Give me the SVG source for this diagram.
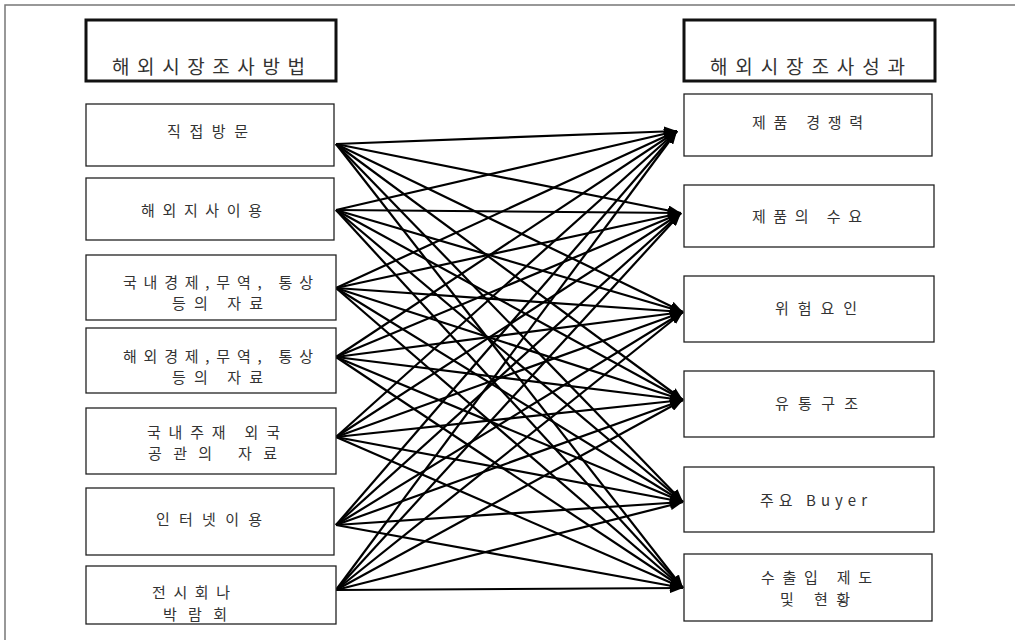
<svg xmlns="http://www.w3.org/2000/svg" width="1015" height="640" viewBox="0 0 1015 640">
  <style>
    .frame { stroke: #777; stroke-width: 1.5; fill: none; }
    .box { fill: #fff; stroke: #222; stroke-width: 1.3; }
    .head { fill: #fff; stroke: #111; stroke-width: 3; }
    .lbl { font-family: "Noto Sans CJK KR", "Noto Sans", sans-serif; font-size: 15px; fill: #333; }
    .hlbl { font-family: "Noto Sans CJK KR", "Noto Sans", sans-serif; font-size: 19px; fill: #333; }
    .edge { stroke: #000; stroke-width: 2.2; fill: none; marker-end: url(#arrow); }
  </style>
  <defs>
    <marker id="arrow" viewBox="0 0 13 10" refX="13" refY="5" markerWidth="13" markerHeight="10" markerUnits="userSpaceOnUse" orient="auto">
      <path d="M0,0 L13,5 L0,10 Z" fill="#000"/>
    </marker>
  </defs>

  <rect width="1015" height="640" fill="#fff"/>
  <!-- page frame (top and left edges) -->
  <path class="frame" d="M5,640 L5,5 L1015,5"/>

  <!-- connectors: every method to every result -->
  <g id="connectors">
    <!-- from 직접방문 -->
    <line class="edge" x1="336" y1="144" x2="677" y2="131"/>
    <line class="edge" x1="336" y1="144" x2="681" y2="213"/>
    <line class="edge" x1="336" y1="144" x2="683" y2="312"/>
    <line class="edge" x1="336" y1="144" x2="683" y2="400"/>
    <line class="edge" x1="336" y1="144" x2="683" y2="502"/>
    <line class="edge" x1="336" y1="144" x2="683" y2="588"/>
    <!-- from 해외지사이용 -->
    <line class="edge" x1="336" y1="210" x2="677" y2="131"/>
    <line class="edge" x1="336" y1="210" x2="681" y2="213"/>
    <line class="edge" x1="336" y1="210" x2="683" y2="312"/>
    <line class="edge" x1="336" y1="210" x2="683" y2="400"/>
    <line class="edge" x1="336" y1="210" x2="683" y2="502"/>
    <line class="edge" x1="336" y1="210" x2="683" y2="588"/>
    <!-- from 국내경제 -->
    <line class="edge" x1="336" y1="288" x2="677" y2="131"/>
    <line class="edge" x1="336" y1="288" x2="681" y2="213"/>
    <line class="edge" x1="336" y1="288" x2="683" y2="312"/>
    <line class="edge" x1="336" y1="288" x2="683" y2="400"/>
    <line class="edge" x1="336" y1="288" x2="683" y2="502"/>
    <line class="edge" x1="336" y1="288" x2="683" y2="588"/>
    <!-- from 해외경제 -->
    <line class="edge" x1="336" y1="357" x2="677" y2="131"/>
    <line class="edge" x1="336" y1="357" x2="681" y2="213"/>
    <line class="edge" x1="336" y1="357" x2="683" y2="312"/>
    <line class="edge" x1="336" y1="357" x2="683" y2="400"/>
    <line class="edge" x1="336" y1="357" x2="683" y2="502"/>
    <line class="edge" x1="336" y1="357" x2="683" y2="588"/>
    <!-- from 국내주재 외국 공관 -->
    <line class="edge" x1="336" y1="437" x2="677" y2="131"/>
    <line class="edge" x1="336" y1="437" x2="681" y2="213"/>
    <line class="edge" x1="336" y1="437" x2="683" y2="312"/>
    <line class="edge" x1="336" y1="437" x2="683" y2="400"/>
    <line class="edge" x1="336" y1="437" x2="683" y2="502"/>
    <line class="edge" x1="336" y1="437" x2="683" y2="588"/>
    <!-- from 인터넷이용 -->
    <line class="edge" x1="336" y1="525" x2="677" y2="131"/>
    <line class="edge" x1="336" y1="525" x2="681" y2="213"/>
    <line class="edge" x1="336" y1="525" x2="683" y2="312"/>
    <line class="edge" x1="336" y1="525" x2="683" y2="400"/>
    <line class="edge" x1="336" y1="525" x2="683" y2="502"/>
    <line class="edge" x1="336" y1="525" x2="683" y2="588"/>
    <!-- from 전시회나 박람회 -->
    <line class="edge" x1="336" y1="590" x2="677" y2="131"/>
    <line class="edge" x1="336" y1="590" x2="681" y2="213"/>
    <line class="edge" x1="336" y1="590" x2="683" y2="312"/>
    <line class="edge" x1="336" y1="590" x2="683" y2="400"/>
    <line class="edge" x1="336" y1="590" x2="683" y2="502"/>
    <line class="edge" x1="336" y1="590" x2="683" y2="588"/>
  </g>

  <!-- left column: research methods -->
  <g id="methods-header">
    <rect class="head" x="86" y="20" width="250" height="61"/>
    <text class="hlbl" x="112" y="74" textLength="193" lengthAdjust="spacing">해외시장조사방법</text>
  </g>
  <g id="m-visit">
    <rect class="box" x="86" y="104" width="248" height="62"/>
    <text class="lbl" x="167" y="137" textLength="81" lengthAdjust="spacing">직접방문</text>
  </g>
  <g id="m-branch">
    <rect class="box" x="86" y="178" width="248" height="62"/>
    <text class="lbl" x="141" y="216" textLength="121" lengthAdjust="spacing">해외지사이용</text>
  </g>
  <g id="m-domestic">
    <rect class="box" x="86" y="255" width="250" height="65"/>
    <text class="lbl" x="123" y="288" textLength="190" lengthAdjust="spacing">국내경제,무역, 통상</text>
    <text class="lbl" x="172" y="309" textLength="91" lengthAdjust="spacing">등의 자료</text>
  </g>
  <g id="m-overseas">
    <rect class="box" x="86" y="328" width="250" height="65"/>
    <text class="lbl" x="123" y="362" textLength="190" lengthAdjust="spacing">해외경제,무역, 통상</text>
    <text class="lbl" x="172" y="383" textLength="91" lengthAdjust="spacing">등의 자료</text>
  </g>
  <g id="m-embassy">
    <rect class="box" x="86" y="408" width="250" height="66"/>
    <text class="lbl" x="147" y="438" textLength="133" lengthAdjust="spacing">국내주재 외국</text>
    <text class="lbl" x="148" y="459" textLength="129" lengthAdjust="spacing">공관의 자료</text>
  </g>
  <g id="m-internet">
    <rect class="box" x="86" y="488" width="248" height="67"/>
    <text class="lbl" x="156" y="525" textLength="106" lengthAdjust="spacing">인터넷이용</text>
  </g>
  <g id="m-fair">
    <rect class="box" x="86" y="566" width="250" height="58"/>
    <text class="lbl" x="152" y="598" textLength="78" lengthAdjust="spacing">전시회나</text>
    <text class="lbl" x="163" y="620" textLength="64" lengthAdjust="spacing">박람회</text>
  </g>

  <!-- right column: research results -->
  <g id="results-header">
    <rect class="head" x="684" y="20" width="251" height="61"/>
    <text class="hlbl" x="710" y="74" textLength="195" lengthAdjust="spacing">해외시장조사성과</text>
  </g>
  <g id="r-competitiveness">
    <rect class="box" x="684" y="94" width="248" height="62"/>
    <text class="lbl" x="752" y="128" textLength="111" lengthAdjust="spacing">제품 경쟁력</text>
  </g>
  <g id="r-demand">
    <rect class="box" x="684" y="185" width="250" height="62"/>
    <text class="lbl" x="752" y="222" textLength="110" lengthAdjust="spacing">제품의 수요</text>
  </g>
  <g id="r-risk">
    <rect class="box" x="684" y="276" width="250" height="66"/>
    <text class="lbl" x="775" y="314" textLength="82" lengthAdjust="spacing">위험요인</text>
  </g>
  <g id="r-distribution">
    <rect class="box" x="684" y="371" width="250" height="66"/>
    <text class="lbl" x="775" y="409" textLength="83" lengthAdjust="spacing">유통구조</text>
  </g>
  <g id="r-buyer">
    <rect class="box" x="684" y="467" width="250" height="65"/>
    <text class="lbl" x="760" y="506" textLength="107" lengthAdjust="spacing">주요 Buyer</text>
  </g>
  <g id="r-trade">
    <rect class="box" x="684" y="554" width="248" height="67"/>
    <text class="lbl" x="761" y="583" textLength="111" lengthAdjust="spacing">수출입 제도</text>
    <text class="lbl" x="780" y="605" textLength="70" lengthAdjust="spacing">및 현황</text>
  </g>
</svg>
